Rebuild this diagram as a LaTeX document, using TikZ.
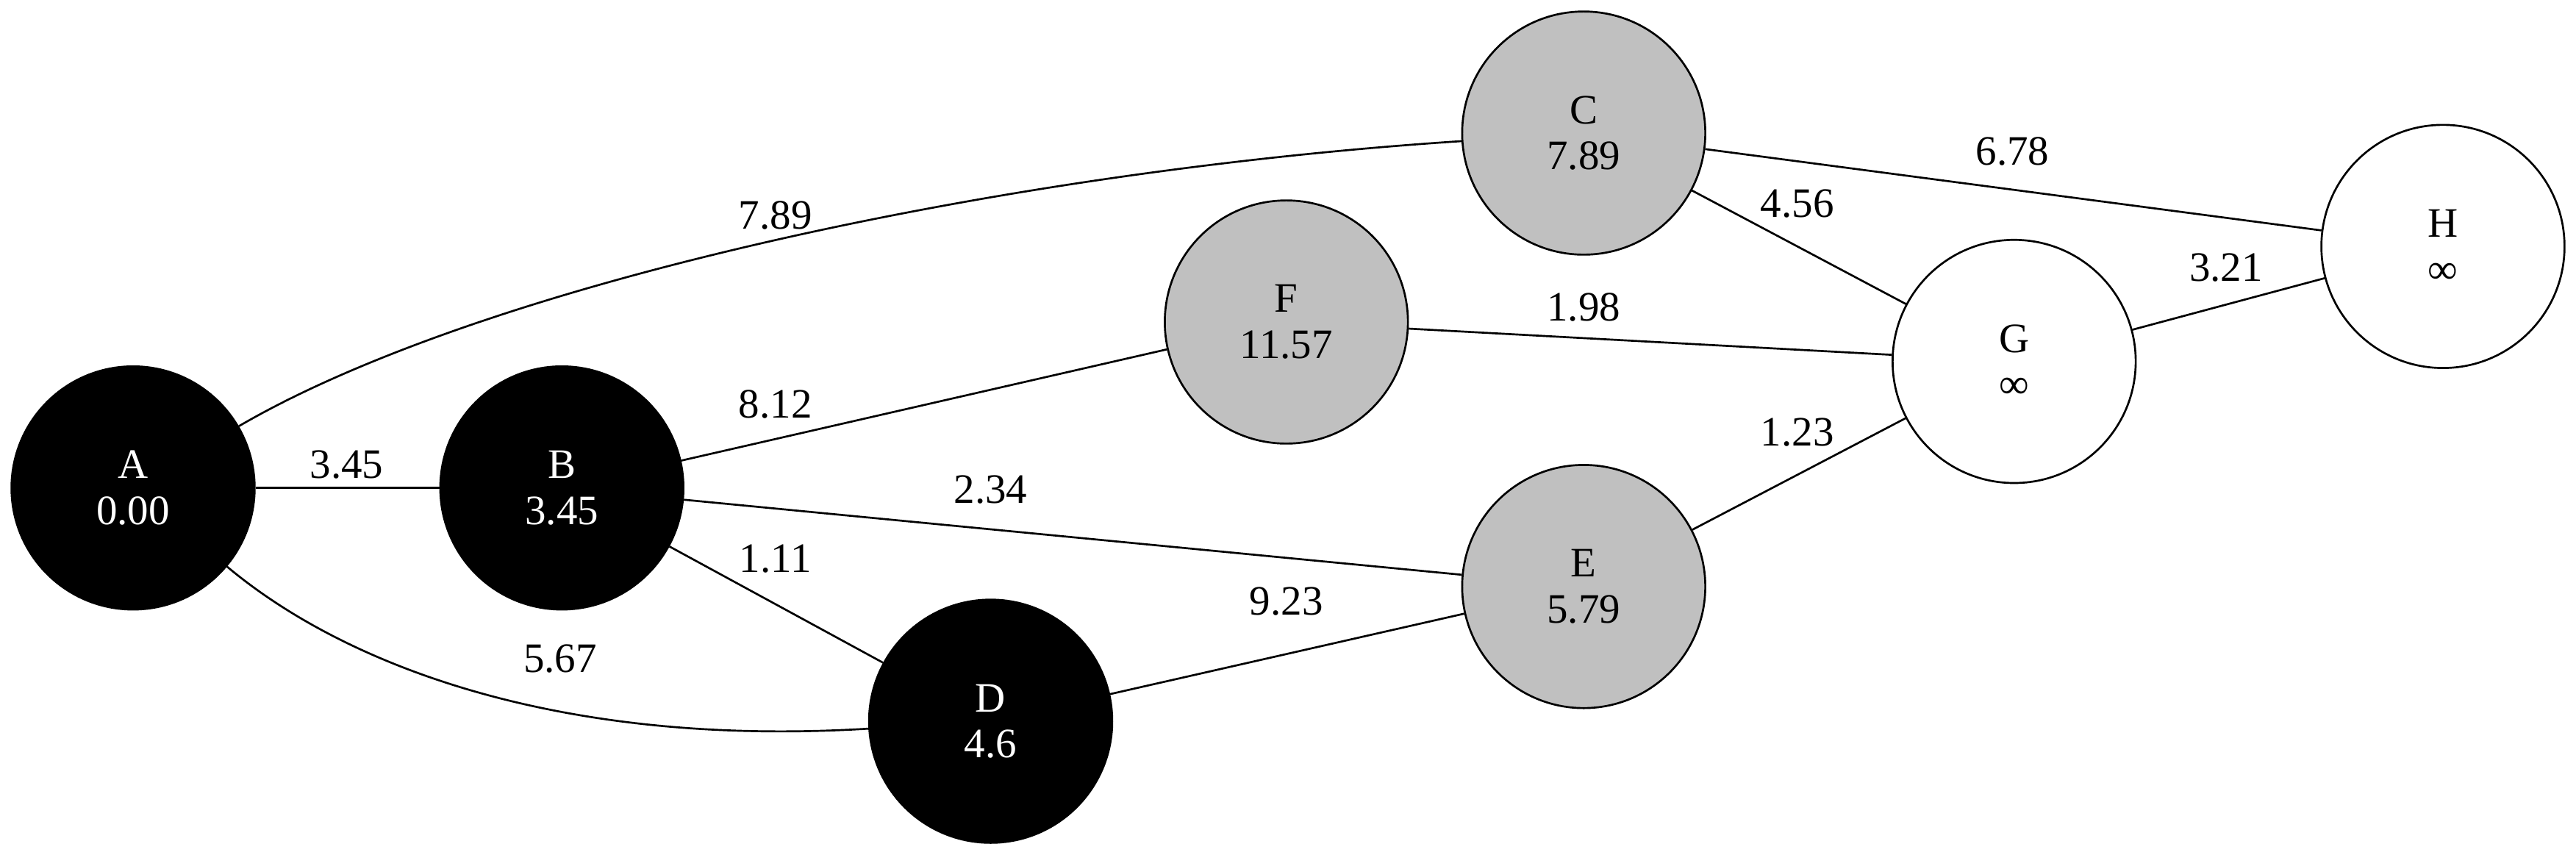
\documentclass[tikz,border=0pt]{standalone}
\usepackage{fontspec}
\setmainfont{Liberation Serif}
\definecolor{nodegray}{HTML}{C0C0C0}
\begin{document}
\begin{tikzpicture}[x=1pt,y=-1pt,
  every node/.style={font=\fontsize{25.5}{28}\selectfont},
  vtx/.style={circle,draw=black,line width=1.2pt,minimum size=148pt,inner sep=0pt,align=center},
  done/.style={vtx,fill=black,text=white},
  seen/.style={vtx,fill=nodegray},
  unseen/.style={vtx,fill=white},
  wlabel/.style={inner sep=0pt},
  edge/.style={line width=1.2pt}]
\useasboundingbox (0,0) rectangle (1568,520);
\node[done]   (A) at (81,297)   {A\\0.00};
\node[done]   (B) at (342,297)  {B\\3.45};
\node[seen]   (C) at (964,81)   {C\\7.89};
\node[done]   (D) at (603,439)  {D\\4.6};
\node[seen]   (E) at (964,357)  {E\\5.79};
\node[seen]   (F) at (783,196)  {F\\11.57};
\node[unseen] (G) at (1226,220) {G\\∞};
\node[unseen] (H) at (1487,150) {H\\∞};

\draw[edge] (A) .. controls (290,175) and (600,105) .. (C);
\draw[edge] (A) -- (B);
\draw[edge] (A) .. controls (210,405) and (340,455) .. (D);
\draw[edge] (B) -- (F);
\draw[edge] (B) -- (E);
\draw[edge] (B) -- (D);
\draw[edge] (D) -- (E);
\draw[edge] (C) -- (H);
\draw[edge] (C) -- (G);
\draw[edge] (F) -- (G);
\draw[edge] (E) -- (G);
\draw[edge] (G) -- (H);

\node[wlabel] (lAC) at (472,131)  {7.89};
\node[wlabel] (lAB) at (211,283)  {3.45};
\node[wlabel] (lBF) at (472,246)  {8.12};
\node[wlabel] (lBE) at (603,298)  {2.34};
\node[wlabel] (lBD) at (472,340)  {1.11};
\node[wlabel] (lAD) at (341,401)  {5.67};
\node[wlabel] (lDE) at (783,366)  {9.23};
\node[wlabel] (lFG) at (964,187)  {1.98};
\node[wlabel] (lCG) at (1094,124) {4.56};
\node[wlabel] (lCH) at (1225,92)  {6.78};
\node[wlabel] (lEG) at (1094,263) {1.23};
\node[wlabel] (lGH) at (1355,163) {3.21};
\end{tikzpicture}
\end{document}
